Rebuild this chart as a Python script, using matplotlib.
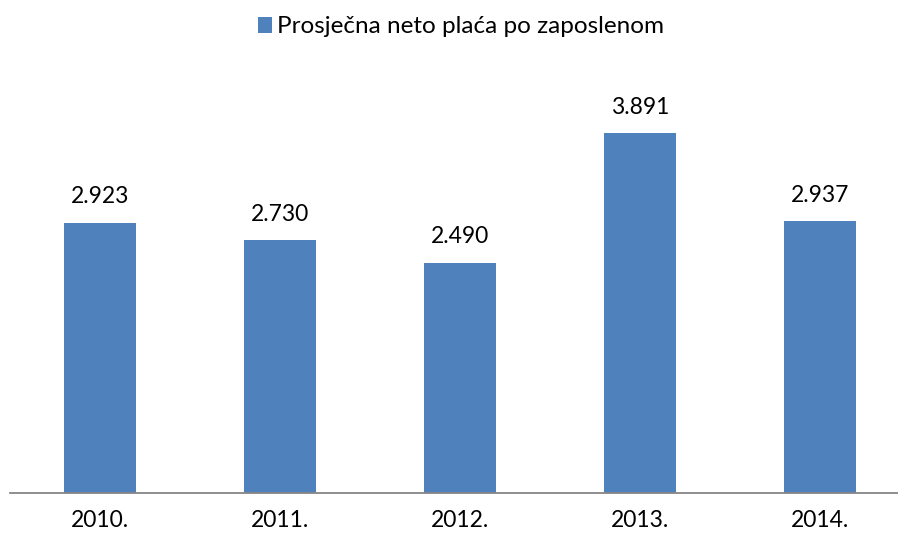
import matplotlib
matplotlib.use("Agg")
import matplotlib.pyplot as plt

years = ["2010.", "2011.", "2012.", "2013.", "2014."]
salary = [2923, 2730, 2490, 3891, 2937]
value_labels = ["2.923", "2.730", "2.490", "3.891", "2.937"]
series_name = "Prosječna neto plaća po zaposlenom"

plt.rcParams["font.family"] = ["Lato", "DejaVu Sans"]

fig = plt.figure(figsize=(8.98, 5.38), dpi=100)
# axes: left edge at 10px, baseline at 493px from top, top at 60px
ax = fig.add_axes([10 / 898, 45 / 538, 888 / 898, 433 / 538])

x = list(range(len(years)))
bars = ax.bar(x, salary, width=0.4, color="#4F81BD", label=series_name, zorder=2)

for b, lbl in zip(bars, value_labels):
    ax.annotate(lbl, (b.get_x() + b.get_width() / 2, b.get_height()),
                xytext=(0, 11), textcoords="offset points",
                ha="center", va="bottom", fontsize=16.5, color="#000000")

ax.set_xlim(-0.5, -0.5 + 888 / 180)
ax.set_ylim(0, 4680)
ax.set_xticks(x)
ax.set_xticklabels(years, fontsize=16.5)
ax.tick_params(axis="x", length=0, pad=12)
ax.set_yticks([])
for side in ["top", "right", "left"]:
    ax.spines[side].set_visible(False)
ax.spines["bottom"].set_color("#868686")
ax.spines["bottom"].set_linewidth(1.3)

fig.legend(handles=[bars], labels=[series_name], loc="center",
           bbox_to_anchor=(461 / 898, 1 - 27 / 538), frameon=False,
           fontsize=17.5, handlelength=0.6, handleheight=0.6, handletextpad=0.2)

fig.savefig("out.png", dpi=100)
